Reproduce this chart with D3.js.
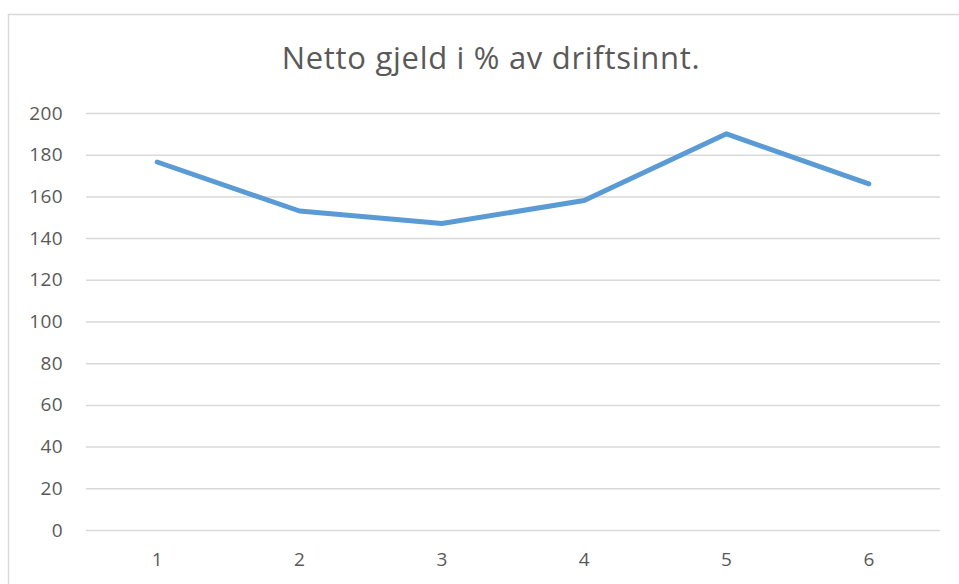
<!DOCTYPE html>
<html><head><meta charset="utf-8">
<script src="https://cdn.jsdelivr.net/npm/d3@7"></script>
<style>body{margin:0;background:#fff;}svg{display:block;}</style>
</head><body>
<script>
const title = "Netto gjeld i % av driftsinnt.";
const categories = ["1","2","3","4","5","6"];
const values = [176.5, 153, 147, 158, 190, 166];
const yTicks = [0,20,40,60,80,100,120,140,160,180,200];

const W = 959, H = 584;
const svg = d3.select("body").append("svg").attr("width", W).attr("height", H);
svg.append("rect").attr("width", W).attr("height", H).attr("fill", "#fff");
// chart frame
svg.append("rect").attr("x", 8.5).attr("y", 14.5).attr("width", 958).attr("height", 600)
  .attr("fill", "none").attr("stroke", "#d9d9d9").attr("stroke-width", 1.5);

const m = {left: 86, right: 940, top: 113, bottom: 530};
const x = d3.scaleBand().domain(categories).range([m.left, m.right]);
const y = d3.scaleLinear().domain([0, 200]).range([m.bottom, m.top]);

const font = "'Open Sans', sans-serif";

const yAxis = svg.append("g").attr("transform", `translate(${m.left},0)`)
  .call(d3.axisLeft(y).tickValues(yTicks).tickSize(-(m.right - m.left)).tickPadding(23));
yAxis.select(".domain").remove();
yAxis.selectAll(".tick line").attr("stroke", "#d9d9d9").attr("stroke-width", 1.5);
yAxis.selectAll(".tick text").attr("fill", "#595959").style("font-family", font)
  .style("font-size", "19px").style("letter-spacing", "0.4px");

const xAxis = svg.append("g").attr("transform", `translate(0,${m.bottom})`)
  .call(d3.axisBottom(x).tickSize(0).tickPadding(23));
xAxis.select(".domain").remove();
xAxis.selectAll(".tick text").attr("fill", "#595959").style("font-family", font).style("font-size", "19px");

const line = d3.line().x((d, i) => x(categories[i]) + x.bandwidth() / 2).y(d => y(d));
svg.append("path").datum(values).attr("d", line)
  .attr("fill", "none").attr("stroke", "#5b9bd5").attr("stroke-width", 5)
  .attr("stroke-linecap", "round").attr("stroke-linejoin", "round");

svg.append("text").attr("x", 491).attr("y", 69).attr("text-anchor", "middle")
  .attr("fill", "#595959").style("font-family", font).style("font-size", "31px")
  .style("letter-spacing", "0.7px").text(title);
</script>
</body></html>
